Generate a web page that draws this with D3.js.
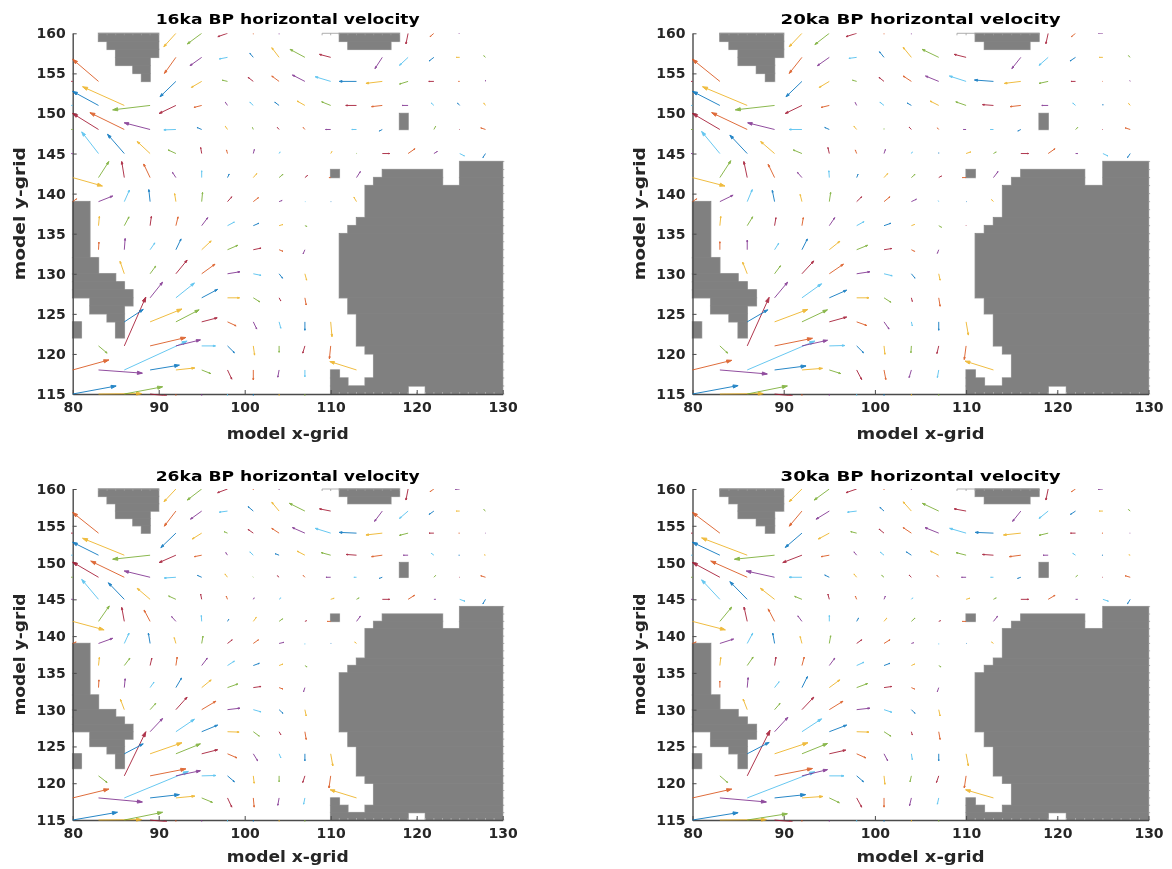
<!DOCTYPE html>
<html>
<head>
<meta charset="utf-8">
<script src="https://cdn.jsdelivr.net/npm/d3@7"></script>
<style>
body { margin: 0; background: #fff; }
svg { display: block; filter: blur(0.4px); }
</style>
</head>
<body>
<div id="chart"></div>
<script>
const titles = ["16ka BP horizontal velocity", "20ka BP horizontal velocity",
    "26ka BP horizontal velocity", "30ka BP horizontal velocity"];
const xTicks = [80, 90, 100, 110, 120, 130];
const yTicks = [115, 120, 125, 130, 135, 140, 145, 150, 155, 160];
const xGrid = d3.range(80, 129, 3);
const yGrid = d3.range(115, 161, 3);
const colorOrder = ["#0072BD", "#D95319", "#EDB120", "#7E2F8E", "#77AC30", "#4DBEEE", "#A2142F"];

// land cells as [y0, y1, x0, x1]
const land = [
    [159,160,83,90],[158,159,84,90],[157,158,85,90],[156,157,85,89],[155,156,87,89],[154,155,88,89],
    [159,160,111,118],[158,159,112,117],
    [148,150,118,119],[142,143,110,111],
    [142,144,125,130],[142,143,116,123],[141,142,115,123],[141,142,125,130],[137,141,114,130],
    [136,137,113,130],[135,136,112,130],[127,135,111,130],[125,127,112,130],[121,125,113,130],
    [120,121,114,130],[117,120,115,130],[116,117,114,130],[115,116,121,130],[115,116,110,119],
    [116,117,110,112],[117,118,110,111],
    [132,139,80,82],[130,132,80,83],[129,130,80,85],[128,129,80,86],[127,128,80,87],[126,127,82,87],
    [125,126,82,86],[124,125,84,86],[122,124,85,86],[122,124,80,81]
];
const topStrips = [[83, 90], [109, 118]];

// rows run from y=115 up to y=160, columns from x=80 to x=128, missing cells are zero
const u16 = [
    [5.05,5,4.45,1.95],
    [4.2,5.1,7.3,3.4,2.2,1.05,.5,0,-.15,0,0,-3.1],
    [0,1,2.5,4.15,2.85,1.6,.8,.15,0,-.25,-.15],
    [0,0,2.2,3.7,2.7,1.8,1,.4,.2,0,.15],
    [0,0,0,1.45,2.15,1.85,1.4,.75,.2,.15],
    [0,0,-.5,.65,1.3,1.55,1.45,.9,.4,.2],
    [0,.05,.1,.55,.6,1.1,1.2,.9,.45,-.2],
    [0,.1,.55,.15,.25,.7,.8,.65,.45,.25],
    [.45,1.65,.6,-.15,-.15,.1,.5,.6,.35,.05,.05,-.3],
    [3.45,1.2,-.3,-.75,-.4,0,.2,.4,.45,.3,-.2,.45],
    [-.2,-1.95,-1.95,-1.5,-.9,-.12,-.12,.12,.12,0,.15,.05,.85,.8,.4,.55,-.3],
    [-.2,-3,-4,-3,-1.4,-.55,-.25,-.1,-.2,-.2,-.6,-.55,-.35,0,.2,-.05,-.55],
    [-.2,-3,-4.85,-4.35,-1.95,-.9,-.25,-.4,-.5,-.9,-1.05,-1.25,-1.25,-.7,-.3,-.25,-.2],
    [-.2,-3,0,0,-1.85,-1.2,-.6,-.6,-.85,-1.45,-1.8,-2,-1.9,-1,-.6,-.15,0],
    [0,0,0,0,-1.33,-1.36,-.95,-.4,-.85,-1.73,-1.3,0,-.85,-1,-.55,-.4,-.2],
    [0,0,0,0,-1.4,-1.67,-1.12,0,0,0,0,0,0,-.25,-.45,-.1,0]
];
const v16 = [
    [1,.05,.9,-.25,-.2,-.2,-.2,-.2,-.2,-.2],
    [1.25,-.4,3.6,.6,.25,-.45,-1.15,-1.25,-.9,-.85,0,1.05],
    [0,-.9,6.1,1.05,.75,0,-.85,-1.15,-.8,-.9,-1.6],
    [0,0,1.55,1.6,1.5,.5,-.5,-.9,-.8,-1.05,-1.85],
    [0,0,0,1.95,1.85,1.05,0,-.5,-.4,-.9],
    [0,0,1.55,.95,1.7,1.2,.25,-.2,-.55,-.8],
    [0,.95,1.4,.85,1.35,1.1,.55,.2,-.2,-.5],
    [0,1.15,1.1,1.15,1.1,1,.45,.3,.15,-.1],
    [.35,.7,1.45,1.5,1,1.15,.6,.5,.15,0,0,.55],
    [-1.05,2,2,1.7,.65,.85,.45,.5,.4,.25,0,.75],
    [0,2.7,2.4,1.5,.45,.75,.45,.5,.2,0,.25,.05,0,.6,.25,-.3,-.5],
    [0,2,2.1,.83,-.05,.25,.4,.25,.25,.25,0,0,-.2,0,.4,0,.2],
    [0,1.75,2.33,-.55,-1,-.25,.4,.4,.4,.55,.45,0,-.15,0,.3,.3,.3],
    [0,2.75,0,0,-1.92,-.75,.15,.5,.67,.8,.58,0,-.25,-.33,0,0,.15],
    [0,0,0,0,-2,-1.04,-.2,.5,1.2,1,.37,0,-1.4,-1,-.45,0,.2],
    [0,0,0,0,-1.67,-1.33,-.42,-.1,-.1,0,0,0,0,-1.33,-.42,0,0]
];
const u20 = [
    [5,4.75,4.4,1.97],
    [4.3,5.2,7.4,3.45,2.25,1.25,.55,.2,-.25,-.15,0,-3.1],
    [0,.85,2.4,4.15,2.8,1.7,.75,.1,-.05,-.2,-.2],
    [0,0,2.25,3.65,2.8,1.9,1.1,.55,.1,0,.25],
    [0,0,0,1.43,2.15,1.9,1.35,.75,.1,.15],
    [0,0,-.5,.65,1.3,1.55,1.45,.9,.4,.15],
    [0,0,0,.45,.6,1.15,1.2,.85,.35,-.15],
    [0,.1,.6,.15,.15,.6,.8,.75,.35,.3,0],
    [.45,1.45,.55,-.25,-.2,.15,.55,.65,.55,-.05,.05,-.2],
    [3.55,1.2,-.37,-.7,-.5,-.05,.15,.4,.4,.3,-.4,.5],
    [-.2,-2,-1.9,-1.53,-.95,-.15,-.15,.15,.1,0,.5,.3,.85,.75,.25,.55,-.3],
    [-.2,-3,-3.9,-2.95,-1.4,-.5,-.3,0,-.25,-.15,-.3,-.33,-.33,0,.25,-.05,-.55],
    [-.2,-3,-4.9,-4.3,-1.83,-.9,-.15,-.45,-.45,-.95,-1.13,-1.2,-1.17,-.7,-.3,0,-.18],
    [-.2,-3,0,0,-1.75,-1.1,-.45,-.55,-.9,-1.45,-1.83,-2.08,-1.8,-1,-.5,-.05,-.05],
    [0,0,0,0,-1.39,-1.3,-.85,-.5,-.9,-1.83,-1.3,0,-.98,-1,-.6,-.4,-.2],
    [0,0,0,0,-1.39,-1.58,-1.17,0,0,0,0,0,0,-.25,-.45,-.5,0]
];
const v20 = [
    [1.05,.05,1,-.25,-.2,-.2,-.2,-.2,-.2,-.2],
    [1.2,-.5,3.6,.5,.2,-.45,-1.2,-1.2,-.95,-.95,0,1.1],
    [0,-.9,6.05,.95,.7,.05,-.85,-1.05,-.85,-.95,-1.7],
    [0,0,1.5,1.55,1.5,.6,-.45,-.9,-.5,-1.05,-1.65],
    [0,0,0,1.95,1.75,.95,0,-.55,-.45,-1.05],
    [0,0,1.45,1,1.6,1.2,.25,-.25,-.55,-.8],
    [0,1,1.2,.8,1.35,1.05,.55,.15,-.2,-.45],
    [0,1.15,1.1,1,1,1,.5,.3,.15,-.2,.05],
    [.35,.8,1.5,1.4,.9,1.15,.6,.6,.3,.1,0,.25],
    [-1.05,2.1,2,1.65,.65,.85,.4,.5,.4,.2,0,.75],
    [0,2.75,2.3,1.5,.45,.75,.45,.5,.2,.1,.2,.2,0,.6,0,-.3,-.5],
    [0,2,2.1,.83,0,.25,.4,.1,.3,.2,0,0,-.2,0,.25,0,.2],
    [0,1.75,2.33,-.55,-1,-.25,.35,.4,.3,.55,.45,.1,-.15,0,.3,.15,.25],
    [0,2.75,0,0,-1.92,-.75,.15,.5,.67,.67,.67,.17,-.25,-.25,0,0,.1],
    [0,0,0,0,-2,-1.04,-.13,.7,1.25,1,.37,0,-1.4,-1,-.45,0,.2],
    [0,0,0,0,-1.67,-1.4,-.42,-.1,-.1,0,0,0,0,-1.3,-.42,0,0]
];
const u26 = [
    [5.2,5,4.45,1.95],
    [4.2,5.1,7.45,3.4,2.2,1.25,.5,.1,-.15,-.15,0,-3.05],
    [0,1,2.5,4.15,2.85,1.65,.8,.1,0,-.25,-.2],
    [0,0,2.2,3.7,2.85,1.85,1.1,.5,.2,0,.25],
    [0,0,0,1.45,2.15,1.85,1.35,.7,.2,.15],
    [0,0,-.45,.65,1.3,1.65,1.45,.9,.45,.15],
    [0,.05,.1,.45,.65,1.1,1.2,.9,.45,-.15],
    [0,.1,.65,.2,.15,.65,.8,.7,.45,.25],
    [.4,1.65,.55,-.2,-.2,.15,.55,.6,.55,0,.05,-.2],
    [3.65,1.25,-.3,-.7,-.5,-.05,.15,.35,.4,.2,-.4,.45],
    [-.2,-1.95,-1.85,-1.5,-.85,-.12,-.15,.1,.2,0,.4,.3,.85,.75,.2,.6,-.3],
    [-.2,-3,-3.9,-3,-1.35,-.5,-.3,-.05,-.2,-.2,-.55,-.3,-.35,0,.2,-.05,-.55],
    [-.2,-3,-4.85,-4.35,-1.95,-.85,-.2,-.4,-.45,-.9,-1.1,-1.2,-1.25,-.55,-.3,-.1,-.15],
    [-.2,-3,0,0,-1.75,-1.1,-.4,-.6,-.85,-1.45,-1.8,-2,-1.9,-1,-.55,-.1,-.05],
    [0,0,0,0,-1.35,-1.3,-.95,-.6,-.85,-1.8,-1.3,0,-.9,-1,-.55,-.4,-.2],
    [0,0,0,0,-1.38,-1.67,-1.15,0,0,0,0,0,0,-.25,-.45,-.5,0]
];
const v26 = [
    [1.05,.05,1.05,-.25,-.2,-.2,-.2,-.2,-.2,-.2],
    [1.2,-.55,3.6,.45,.25,-.6,-1.25,-1.25,-1,-.85,0,1.1],
    [0,-.9,6,.95,.7,.05,-.8,-1,-.8,-.9,-1.65],
    [0,0,1.35,1.5,1.35,.55,-.55,-.95,-.55,-.95,-1.65],
    [0,0,0,1.8,1.7,.9,-.05,-.6,-.4,-1.05],
    [0,0,1.4,.85,1.7,1.15,.2,-.3,-.5,-.85],
    [0,1.05,1.2,.75,1.3,1.05,.5,.15,-.2,-.55],
    [0,1.1,1,1,1.15,1,.6,.3,.2,-.2],
    [.2,.7,1.4,1.4,.8,1,.5,.5,.15,-.1,0,.2],
    [-1.15,2.1,1.9,1.55,.65,.8,.3,.55,.35,.1,0,.7],
    [0,2.7,2.25,1.5,.45,.7,.45,.2,.2,0,.15,.2,0,.55,0,-.25,-.6],
    [0,2.05,2.2,.85,-.1,.25,.45,.05,.2,.25,0,0,-.15,0,.25,0,.2],
    [0,1.75,2.3,-.55,-1,-.2,.35,.45,.2,.55,.35,.1,-.2,0,.25,0,.05],
    [0,2.8,0,0,-1.97,-.8,.2,.5,.65,.75,.65,.1,-.25,-.3,0,0,0],
    [0,0,0,0,-2.05,-1.1,-.15,.6,1.2,1.05,.3,0,-1.4,-1,-.45,0,.2],
    [0,0,0,0,-1.72,-1.5,-.5,-.1,-.1,0,0,0,0,-1.5,-.36,-.05,0]
];
const u30 = [
    [5,5.1,4.4,1.95],
    [4.3,5.1,7.4,3.4,2.3,1.1,.55,0,-.2,-.15,0,-3.05],
    [0,.85,2.5,4.15,2.8,1.6,.75,.1,-.15,-.25,-.2],
    [0,0,2.4,3.65,2.8,1.8,1,.4,.1,0,.25],
    [0,0,0,1.45,2.15,1.9,1.35,.75,.1,.15],
    [0,0,-.45,.6,1.3,1.5,1.45,.85,.4,.15],
    [0,0,.1,.5,.6,1.15,1.2,.85,.35,-.15],
    [0,.1,.65,.15,.25,.6,.8,.65,.35,.25],
    [.4,1.5,.6,-.2,-.2,.15,.55,.65,.25,0,.05,-.2],
    [3.6,1.3,-.35,-.7,-.45,0,.2,.3,.4,.2,-.4,.45],
    [-.2,-2,-1.9,-1.55,-.8,-.15,-.15,.15,.15,0,.4,.3,.85,.75,.2,.6,-.3],
    [-.2,-3,-4,-3.1,-1.4,-.5,-.3,-.25,-.25,-.2,-.5,-.3,-.35,0,.2,-.05,-.55],
    [-.2,-3,-5,-4.4,-2.1,-.9,-.3,-.4,-.55,-.9,-1.1,-1.2,-1.25,-.55,-.3,-.1,-.15],
    [-.2,-3,0,0,-1.83,-1.2,-.65,-.55,-.9,-1.5,-1.8,-2,-1.9,-1,-.55,-.1,-.05],
    [0,0,0,0,-1.39,-1.45,-1,-.45,-.9,-1.8,-1.3,0,-.9,-1,-.55,-.4,-.2],
    [0,0,0,0,-1.39,-1.65,-1.17,0,0,0,0,0,0,-.25,-.45,-.5,0]
];
const v30 = [
    [1,.05,.85,-.25,-.2,-.2,-.2,-.2,-.2,-.2],
    [1.2,-.55,3.55,.45,.2,-.65,-1.25,-1.25,-1.05,-.85,0,1.1],
    [0,-.9,6.2,1,.85,0,-.8,-1.15,-.8,-.9,-1.65],
    [0,0,1.55,1.5,1.4,.5,-.55,-.95,-.8,-.95,-1.65],
    [0,0,0,1.95,1.75,.9,-.05,-.6,-.45,-1.05],
    [0,0,1.45,.85,1.7,1.15,.2,-.35,-.5,-.85],
    [0,.9,1.35,.8,1.5,1.05,.55,.15,-.2,-.55],
    [0,1.1,1.15,1.15,1.15,1,.45,.3,.2,-.2],
    [.2,.6,1.4,1.4,.95,1.05,.5,.5,.1,-.1,0,.2],
    [-1.15,1.95,1.95,1.7,.75,.8,.45,.45,.45,.1,0,.7],
    [0,2.65,2.4,1.5,.4,.7,.45,.45,.2,0,.15,.2,0,.55,0,-.25,-.6],
    [0,2,2.2,.85,0,.3,.45,.25,.3,.25,0,0,-.15,0,.25,0,.2],
    [0,1.75,2.35,-.55,-1,-.2,.45,.4,.45,.55,.35,.1,-.2,0,.25,0,.05],
    [0,2.8,0,0,-1.95,-.8,.2,.55,.75,.75,.65,.1,-.25,-.3,0,0,0],
    [0,0,0,0,-2.05,-1.1,-.15,.5,1.25,1.05,.3,0,-1.4,-1,-.45,0,.2],
    [0,0,0,0,-1.72,-1.5,-.5,-.1,-.1,0,0,0,0,-1.5,-.36,-.05,0]
];
const uAll = [u16, u20, u26, u30];
const vAll = [v16, v20, v26, v30];

const layout = [
    {left: 72.7, right: 502.7, top: 33.3, bottom: 394, titleY: 24, titleW: 264, xLabelY: 439, xLabelW: 122, yLabelW: 133},
    {left: 692.5, right: 1148.5, top: 33.3, bottom: 394, titleY: 24, titleW: 280, xLabelY: 439, xLabelW: 128, yLabelW: 133},
    {left: 72.7, right: 502.7, top: 489, bottom: 820, titleY: 481, titleW: 264, xLabelY: 862, xLabelW: 122, yLabelW: 122},
    {left: 692.5, right: 1148.5, top: 489, bottom: 820, titleY: 481, titleW: 280, xLabelY: 862, xLabelW: 128, yLabelW: 122}
];
const font = "'DejaVu Sans', sans-serif";
const axisColor = "#4a4a4a";
const landColor = "#808080";

const color = d3.scaleOrdinal().domain(d3.range(7)).range(colorOrder);

const svg = d3.select("#chart").append("svg")
    .attr("width", 1172)
    .attr("height", 869);

function arrow_path(d, x, y) {
    let x1 = x(d.x), y1 = y(d.y), x2 = x(d.x + d.u), y2 = y(d.y + d.v);
    let len = Math.hypot(x2 - x1, y2 - y1);
    let h = Math.min(5, len * 0.16), w = h * 0.32;
    let ux = (x2 - x1) / len, uy = (y2 - y1) / len;
    let bx = x2 - ux * h, by = y2 - uy * h;
    return "M" + x1 + "," + y1 + "L" + x2 + "," + y2
        + "L" + (bx - uy * w) + "," + (by + ux * w)
        + "L" + (bx + uy * w) + "," + (by - ux * w)
        + "L" + x2 + "," + y2;
}

function render_panel(i) {
    let box = layout[i];
    let x = d3.scaleLinear().domain([80, 130]).range([box.left, box.right]);
    let y = d3.scaleLinear().domain([115, 160]).range([box.bottom, box.top]);
    let g = svg.append("g");

    g.append("clipPath").attr("id", "clip" + i).append("rect")
        .attr("x", box.left - 1.5)
        .attr("y", box.top)
        .attr("width", box.right - box.left + 1.5)
        .attr("height", box.bottom - box.top + 1.8);

    // pale outline first, then the fill over it, a thin same colour stroke hides the joins
    g.append("g").selectAll("rect").data(land).enter().append("rect")
        .attr("x", function(d) { return x(d[2]); })
        .attr("y", function(d) { return y(d[1]); })
        .attr("width", function(d) { return x(d[3]) - x(d[2]); })
        .attr("height", function(d) { return y(d[0]) - y(d[1]); })
        .attr("fill", "none")
        .attr("stroke", "#c4c4c4")
        .attr("stroke-width", 1.6);
    g.append("g").selectAll("rect").data(land).enter().append("rect")
        .attr("x", function(d) { return x(d[2]); })
        .attr("y", function(d) { return y(d[1]); })
        .attr("width", function(d) { return x(d[3]) - x(d[2]); })
        .attr("height", function(d) { return y(d[0]) - y(d[1]); })
        .attr("fill", landColor)
        .attr("stroke", landColor)
        .attr("stroke-width", 0.6);

    // short marks left by the cell grid along the frame
    let marks = g.append("g").attr("stroke", "#9a9a9a").attr("stroke-width", 0.8);
    d3.range(115, 145).forEach(function(v) {
        marks.append("line").attr("x1", x(130)).attr("x2", x(130) + 1.6).attr("y1", y(v)).attr("y2", y(v));
    });
    d3.range(111, 130).forEach(function(v) {
        marks.append("line").attr("x1", x(v)).attr("x2", x(v)).attr("y1", y(115)).attr("y2", y(115) - 2)
            .attr("stroke", "#b4b4b4");
    });
    topStrips.forEach(function(s) {
        marks.append("line").attr("x1", x(s[0])).attr("x2", x(s[1])).attr("y1", y(160)).attr("y2", y(160));
        d3.range(s[0], s[1] + 1).forEach(function(v) {
            marks.append("line").attr("x1", x(v)).attr("x2", x(v)).attr("y1", y(160)).attr("y2", y(160) + 2);
        });
    });

    // axes
    let xAxis = g.append("g")
        .attr("transform", "translate(0," + box.bottom + ")")
        .call(d3.axisBottom(x).tickValues(xTicks).tickSizeInner(-4).tickSizeOuter(0).tickPadding(8));
    let yAxis = g.append("g")
        .attr("transform", "translate(" + box.left + ",0)")
        .call(d3.axisLeft(y).tickValues(yTicks).tickSizeInner(-4).tickSizeOuter(0).tickPadding(7));
    [xAxis, yAxis].forEach(function(a) {
        a.attr("font-family", font).attr("font-size", 14).attr("font-weight", "bold");
        a.select(".domain").attr("stroke", axisColor).attr("stroke-width", 1.4);
        a.selectAll(".tick line").attr("stroke", axisColor);
        a.selectAll(".tick text").attr("fill", "#262626");
    });

    // one arrow per grid point, colours keep cycling column after column
    let arrows = [];
    xGrid.forEach(function(gx, c) {
        yGrid.forEach(function(gy, r) {
            let u = uAll[i][r][c] || 0, v = vAll[i][r][c] || 0;
            if (u !== 0 || v !== 0) {
                arrows.push({x: gx, y: gy, u: u, v: v, k: (c * yGrid.length + r) % colorOrder.length});
            }
        });
    });
    g.append("g")
        .attr("clip-path", "url(#clip" + i + ")")
        .selectAll("path").data(arrows).enter().append("path")
        .attr("d", function(d) { return arrow_path(d, x, y); })
        .attr("stroke", function(d) { return color(d.k); })
        .attr("fill", function(d) { return color(d.k); })
        .attr("stroke-width", 1)
        .attr("opacity", 0.85)
        .attr("stroke-linejoin", "round");

    // labels
    let mid = (box.left + box.right) / 2;
    g.append("text")
        .attr("x", mid)
        .attr("y", box.titleY)
        .attr("text-anchor", "middle")
        .attr("font-family", font)
        .attr("font-weight", "bold")
        .attr("font-size", 14)
        .attr("fill", "#000")
        .attr("textLength", box.titleW)
        .attr("lengthAdjust", "spacingAndGlyphs")
        .text(titles[i]);
    g.append("text")
        .attr("x", mid)
        .attr("y", box.xLabelY)
        .attr("text-anchor", "middle")
        .attr("font-family", font)
        .attr("font-weight", "bold")
        .attr("font-size", 15)
        .attr("fill", "#262626")
        .attr("textLength", box.xLabelW)
        .attr("lengthAdjust", "spacingAndGlyphs")
        .text("model x-grid");
    g.append("text")
        .attr("transform", "translate(" + (box.left - 48) + "," + ((box.top + box.bottom) / 2) + ") rotate(-90)")
        .attr("text-anchor", "middle")
        .attr("font-family", font)
        .attr("font-weight", "bold")
        .attr("font-size", 15)
        .attr("fill", "#262626")
        .attr("textLength", box.yLabelW)
        .attr("lengthAdjust", "spacingAndGlyphs")
        .text("model y-grid");
}

titles.forEach(function(t, i) { render_panel(i); });
</script>
</body>
</html>
